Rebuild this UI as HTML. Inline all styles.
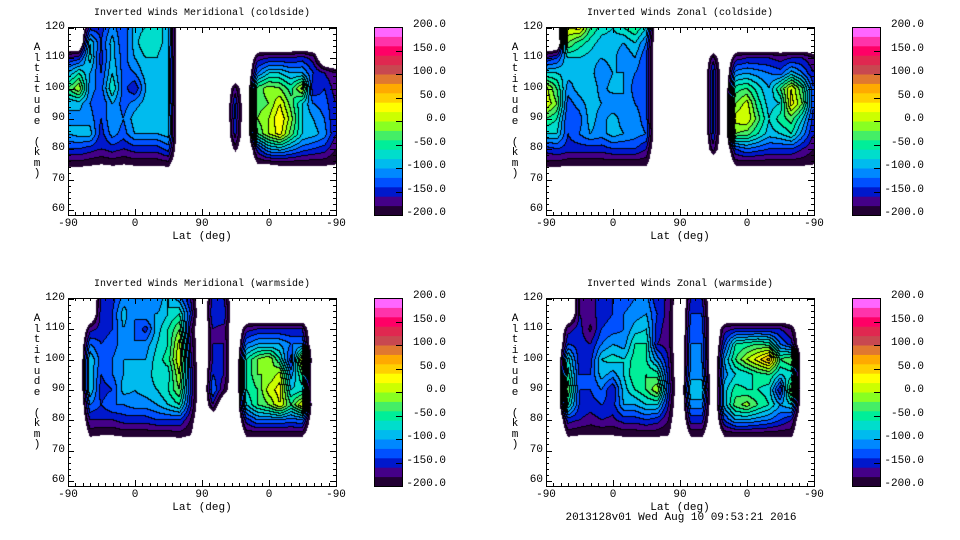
<!DOCTYPE html>
<html><head><meta charset="utf-8"><style>
body{margin:0;background:#fff;width:960px;height:540px;overflow:hidden;position:relative;font-family:"Liberation Mono",monospace;}
.t{position:absolute;font-size:10px;color:#000;white-space:pre;}
.lbl{position:absolute;font-size:11px;color:#000;white-space:pre;}
canvas{position:absolute;}
svg{position:absolute;left:0;top:0;}
</style></head><body>
<svg id="axes" width="960" height="540"></svg>
<script>
// ---- data: columns of track coordinate u (0..360 = -90→90→-90 lat), rows altitude 120..75 ----
const rowAlts=[120,115,110,105,100,95,90,85,80,75];
const colU=[0,15,30,45,60,75,90,105,120,135,150,165,180,195,210,225,240,255,270,285,300,315,330,345,360];
const N=null;
const merCold={
0:[N,N,-160,-100,-40,-100,-100,-100,-140,-190],15:[N,N,-150,-60,0,-90,-110,-90,-140,-190],
30:[-150,-80,-70,-100,-110,-120,-110,-90,-150,-195],45:[-150,-140,-150,-140,-130,-140,-140,-150,-160,-200],
60:[-110,-90,-90,-80,-60,-100,-100,-110,-150,-195],75:[-140,-140,-130,-130,-130,-130,-120,-130,-160,-200],
90:[-90,-90,-100,-120,-160,-110,-90,-100,-150,-195],105:[-80,-60,-80,-90,-100,-90,-80,-100,-150,-195],
120:[-70,-70,-80,-80,-90,-90,-90,-100,-150,-195],135:[-90,-90,-100,-100,-100,-100,-90,-90,-130,-190],
225:[N,N,N,N,-170,-140,-140,-150,-190,N],
255:[N,N,-170,-120,-30,-30,-20,-40,-150,-200],
270:[N,N,-160,-80,-10,-20,0,0,-100,-200],285:[N,N,-160,-80,-20,20,40,30,-90,-195],
300:[N,N,-160,-100,-50,-30,-10,-30,-110,-195],315:[N,N,-150,-100,10,-80,-80,-80,-130,-195],
330:[N,N,-170,-140,-160,-120,-100,-90,-140,-195],345:[N,N,N,-160,-140,-130,-120,-110,-150,-195],
360:[N,N,N,-180,-170,-160,-160,-160,-180,-200]};
const zonCold={
0:[N,N,-160,-80,10,20,-40,-80,-150,-190],15:[N,N,-140,-80,-40,-20,-60,-80,-140,-190],
30:[20,-20,-80,-90,-110,-130,-140,-140,-150,-195],45:[30,-50,-80,-100,-90,-110,-130,-120,-150,-195],
60:[-40,-70,-90,-90,-80,-90,-90,-100,-150,-195],75:[-70,-90,-100,-120,-110,-100,-110,-110,-150,-195],
90:[-80,-90,-90,-100,-90,-120,-90,-90,-140,-195],105:[-60,-100,-120,-100,-100,-100,-110,-100,-140,-195],
120:[-40,-80,-100,-120,-130,-120,-110,-110,-140,-195],135:[-80,-120,-140,-140,-130,-130,-130,-120,-160,-195],
225:[N,N,-170,-130,-130,-130,-130,-140,-170,N],
255:[N,N,-170,-110,-50,-20,10,-20,-140,-195],
270:[N,N,-160,-100,-40,10,20,-30,-120,-195],285:[N,N,-160,-110,-70,-50,-30,-60,-130,-195],
300:[N,N,-160,-120,-100,-90,-80,-90,-140,-195],315:[N,N,-170,-130,-40,-80,-50,-80,-140,-195],
330:[N,N,-160,-90,20,30,-30,-60,-140,-195],345:[N,N,-160,-120,-40,-20,-80,-110,-160,-195],
360:[N,N,-180,-160,-140,-140,-150,-160,-180,-200]};
const merWarm={
30:[N,N,-170,-120,-80,-80,-80,-120,-160,-195],45:[-160,-150,-150,-140,-130,-140,-150,-140,-160,-200],
60:[-150,-140,-140,-130,-120,-120,-140,-120,-160,-200],75:[-110,-90,-100,-110,-100,-100,-90,-120,-150,-195],
90:[-100,-120,-120,-120,-100,-100,-100,-110,-150,-195],105:[-100,-100,-150,-110,-100,-90,-90,-110,-150,-195],
120:[-120,-100,-90,-80,-70,-70,-80,-100,-140,-195],135:[-80,-80,-60,-60,-50,-70,-60,-80,-140,-195],
150:[-110,-60,-20,10,20,0,-20,-60,-140,-190],165:[-160,-140,-170,-160,-150,-140,-140,-150,-180,-200],
195:[-150,-140,-160,-160,-160,-140,-120,-160,N,N],210:[-160,-140,-170,-160,-160,-160,-180,N,N,N],
240:[N,N,-170,-120,-60,-60,-60,-80,-150,-195],
255:[N,N,-160,-100,-20,-20,-40,-40,-120,-195],270:[N,N,-160,-100,0,-20,10,-20,-120,-195],
285:[N,N,-160,-100,-60,10,30,20,-120,-195],300:[N,N,-160,-120,-150,-110,-80,-40,-130,-195],
315:[N,N,-160,-120,20,-40,-70,20,-120,-195]};
const zonWarm={
30:[N,N,-170,-140,-70,-50,-20,-60,-150,-195],45:[-160,-160,-150,-150,-150,-140,-140,-140,-160,-200],
60:[-170,-170,-185,-160,-150,-140,-140,-150,-170,-200],75:[-150,-150,-140,-120,-80,-90,-120,-140,-160,-200],
90:[-140,-140,-130,-100,-70,-110,-160,-150,-165,-200],105:[-130,-120,-120,-110,-80,-80,-90,-100,-150,-195],
120:[-120,-110,-90,-60,-50,-40,-60,-100,-150,-195],135:[-110,-100,-80,-60,-60,-40,-40,-80,-140,-195],
150:[-160,-140,-150,-160,-110,-50,0,-80,-150,-195],165:[-160,-170,-175,-170,-160,-150,-140,-160,-180,-200],
195:[-160,-140,-130,-120,-120,-110,-80,-110,-150,-195],210:[-160,-140,-130,-120,-120,-110,-80,-110,-150,-195],
240:[N,N,-170,-140,-100,-110,-90,-90,-140,-195],
255:[N,N,-160,-60,-40,-80,-50,-30,-100,-195],270:[N,N,-160,-50,0,-70,-60,-10,-100,-195],
285:[N,N,-160,-40,30,-50,-60,-40,-110,-195],300:[N,N,-160,-50,70,-40,-70,-60,-120,-195],
315:[N,N,-160,-120,-40,-80,-160,-100,-140,-195],330:[N,N,-180,-150,-20,-70,-10,-80,-160,-195]};
const xTickLabels=["-90","0","90","0","-90"];
const yTickLabels=[60,70,80,90,100,110,120];
const cbLabels=["200.0","150.0","100.0","50.0","0.0","-50.0","-100.0","-150.0","-200.0"];
const colors=["#ff66ff","#ff33aa","#ff0066","#e02850","#c84850","#e07830","#ffaa00","#ffd000","#ffff00","#ccff00",
"#88ff22","#44ee66","#00ee99","#00ddcc","#00bbee","#0088ff","#0050ff","#0018cc","#440088","#220033"].reverse();

const panels=[
 {ox:0,oy:0,title:"Inverted Winds Meridional (coldside)",data:merCold,name:"meridional-coldside"},
 {ox:478,oy:0,title:"Inverted Winds Zonal (coldside)",data:zonCold,name:"zonal-coldside"},
 {ox:0,oy:271,title:"Inverted Winds Meridional (warmside)",data:merWarm,name:"meridional-warmside"},
 {ox:478,oy:271,title:"Inverted Winds Zonal (warmside)",data:zonWarm,name:"zonal-warmside"}];

const PX0=68,PX1=336,PY0=27,PY1=215;
function xs(u){return PX0+u*(PX1-PX0)/360;}
function ys(a){return 28+(120-a)*3.03;}
const NUL=-250;
function val(d,u,a){
  if(a<70)return NUL; if(a>120)a=120;
  const ci=Math.min(colU.length-2,Math.max(0,Math.floor(u/15))); const fu=Math.min(1,Math.max(0,(u-colU[ci])/15));
  const get=(c,r)=>{const col=d[colU[c]]; if(r>=rowAlts.length) return NUL; if(!col)return NUL; const v=col[r]; return v==null?NUL:v;};
  let r=Math.floor((120-a)/5); let fa=((120-a)-r*5)/5; if(r>=rowAlts.length){r=rowAlts.length-1;fa=1;}
  const v00=get(ci,r),v10=get(ci+1,r),v01=get(ci,r+1),v11=get(ci+1,r+1);
  return (v00*(1-fu)+v10*fu)*(1-fa)+(v01*(1-fu)+v11*fu)*fa;
}
function lvl(v){if(v<-200)return -1;return Math.min(19,Math.floor((v+200)/20));}

const svg=document.getElementById('axes');
const NS="http://www.w3.org/2000/svg";
function line(x1,y1,x2,y2,nm){const l=document.createElementNS(NS,'line');l.setAttribute('x1',x1);l.setAttribute('y1',y1);l.setAttribute('x2',x2);l.setAttribute('y2',y2);l.setAttribute('stroke','#000');l.setAttribute('stroke-width',1);


svg.appendChild(l);}
function text(x,y,s,cls,nm,align){const d=document.createElement('div');d.className=cls;d.textContent=s;d.style.left=x+'px';d.style.top=y+'px';if(align==='c')d.style.transform='translateX(-50%)';if(align==='r')d.style.transform='translateX(-100%)';


document.body.appendChild(d);}

panels.forEach(p=>{
  const W=PX1-PX0,H=PY1-PY0;
  const cv=document.createElement('canvas');cv.width=W;cv.height=H;cv.style.left=(PX0+p.ox)+'px';cv.style.top=(PY0+p.oy)+'px';
  
  
  document.body.insertBefore(cv,svg);
  const ctx=cv.getContext('2d');const img=ctx.createImageData(W,H);
  const L=new Int8Array(W*H);
  for(let j=0;j<H;j++){const a=120-((PY0+j+0.5)-28)/3.03;for(let i=0;i<W;i++){const u=(i+0.5)*360/W;L[j*W+i]=lvl(val(p.data,u,a));}}
  const rgb=colors.map(c=>[parseInt(c.substr(1,2),16),parseInt(c.substr(3,2),16),parseInt(c.substr(5,2),16)]);
  for(let j=0;j<H;j++)for(let i=0;i<W;i++){const k=j*W+i,l=L[k];let c=[255,255,255];
    if(l>=0){c=rgb[l];const r=i<W-1?L[k+1]:l,b=j<H-1?L[k+W]:l;if((r>=0&&r!==l)||(b>=0&&b!==l))c=[0,0,0];}
    img.data[k*4]=c[0];img.data[k*4+1]=c[1];img.data[k*4+2]=c[2];img.data[k*4+3]=255;}
  ctx.putImageData(img,0,0);
  const ox=p.ox,oy=p.oy;
  line(PX0+ox,PY0+oy+0.5,PX1+ox,PY0+oy+0.5,'plot-frame-top');line(PX0+ox,PY1+oy+0.5,PX1+ox,PY1+oy+0.5,'plot-frame-bottom');
  line(PX0+ox+0.5,PY0+oy,PX0+ox+0.5,PY1+oy+1,'plot-frame-left');line(PX1+ox+0.5,PY0+oy,PX1+ox+0.5,PY1+oy+1,'plot-frame-right');
  for(let u=0;u<=360;u+=10){const x=Math.round(xs(u))+ox+0.5;const len=u%90===0?6:3;
    line(x,PY1+oy,x,PY1+oy-len,'x-tick');line(x,PY0+oy,x,PY0+oy+len,'x-tick');}
  for(let a=60;a<=120;a+=2){const y=Math.round(ys(a))+oy+0.5;const len=a%10===0?6:3;
    line(PX0+ox,y,PX0+ox+len,y,'y-tick');line(PX1+ox,y,PX1+ox-len,y,'y-tick');}
  xTickLabels.forEach((s,i)=>text(xs(i*90)+ox,PY1+oy+3,s,'lbl','x-tick-label','c'));
  yTickLabels.forEach(a=>text(PX0+ox-3,ys(a)+oy-7,String(a),'lbl','y-tick-label','r'));
  text(202+ox,PY1+oy+16,"Lat (deg)",'lbl','x-axis-title','c');
  text(202+ox,8+oy,p.title,'t','plot-title','c');
  "Altitude (km)".split('').forEach((ch,i)=>text(37+ox,oy+42+i*10.5,ch,'lbl','y-axis-title-letter','c'));
  for(let b=0;b<20;b++){const r=document.createElementNS(NS,'rect');const y0=PY0+oy+(19-b)*(H/20);
    r.setAttribute('x',374+ox);r.setAttribute('y',y0);r.setAttribute('width',28);r.setAttribute('height',H/20+0.5);r.setAttribute('fill',colors[b]);
    
    
    svg.appendChild(r);}
  const fr=document.createElementNS(NS,'rect');fr.setAttribute('x',374.5+ox);fr.setAttribute('y',PY0+oy+0.5);fr.setAttribute('width',28);fr.setAttribute('height',H);fr.setAttribute('fill','none');fr.setAttribute('stroke','#000');
  
  
  svg.appendChild(fr);
  cbLabels.forEach((s,i)=>{const y=PY0+oy+i*H/8;if(i>0&&i<8)line(396+ox,Math.round(y)+0.5,402+ox,Math.round(y)+0.5,'colorbar-tick');
    text(446+ox,y-8,s,'lbl','colorbar-label','r');});
});
text(681,512,"2013128v01 Wed Aug 10 09:53:21 2016",'lbl','timestamp-footer','c');
</script>
</body></html>
